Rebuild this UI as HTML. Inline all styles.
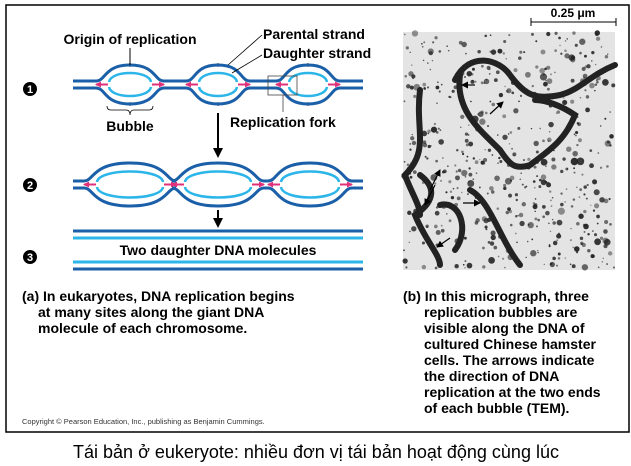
<!DOCTYPE html>
<html><head><meta charset="utf-8"><style>
body{margin:0;background:#fff;width:631px;height:466px;overflow:hidden}
svg{display:block}
text{font-family:"Liberation Sans",Arial,sans-serif}
</style></head><body>
<svg id="s" width="631" height="466" xmlns="http://www.w3.org/2000/svg">
<defs>
<marker id="pk" markerWidth="6" markerHeight="6" refX="5" refY="3" orient="auto" markerUnits="userSpaceOnUse"><path d="M0,0 L6,3 L0,6z" fill="#e0307a"/></marker>
<marker id="bk" markerWidth="10" markerHeight="10" refX="8" refY="5" orient="auto" markerUnits="userSpaceOnUse"><path d="M0,0 L10,5 L0,10z" fill="#000"/></marker>
<marker id="sk" markerWidth="7" markerHeight="7" refX="6" refY="3.5" orient="auto" markerUnits="userSpaceOnUse"><path d="M0,0 L7,3.5 L0,7z" fill="#000"/></marker>
</defs>
<rect x="6" y="5" width="623" height="427" fill="#fff" stroke="#000" stroke-width="1.5"/>
<g id="dna"></g>
<g id="mic"></g>
<line x1="218" y1="113" x2="218" y2="156" stroke="#000" stroke-width="2" marker-end="url(#bk)"/>
<line x1="218" y1="210" x2="218" y2="226" stroke="#000" stroke-width="2" marker-end="url(#bk)"/>
<line x1="73" y1="231" x2="363" y2="231" stroke="#1a5fa8" stroke-width="3"/>
<line x1="73" y1="238" x2="363" y2="238" stroke="#2bb5e8" stroke-width="3"/>
<line x1="73" y1="262" x2="363" y2="262" stroke="#2bb5e8" stroke-width="3"/>
<line x1="73" y1="269" x2="363" y2="269" stroke="#1a5fa8" stroke-width="3"/>
<text x="218" y="255" font-size="14" font-weight="bold" text-anchor="middle">Two daughter DNA molecules</text>
<g font-size="14" font-weight="bold">
<text x="130" y="44" text-anchor="middle">Origin of replication</text>
<text x="263" y="39">Parental strand</text>
<text x="263" y="58">Daughter strand</text>
<text x="130" y="131" text-anchor="middle">Bubble</text>
<text x="230" y="127">Replication fork</text>
</g>
<line x1="130" y1="48" x2="130" y2="65" stroke="#000"/>
<path d="M107,106 q0,4 4,4 h15 q4,0 4,5 q0,-5 4,-5 h15 q4,0 4,-4" fill="none" stroke="#000" stroke-width="0.8"/>
<line x1="262" y1="35" x2="228" y2="65" stroke="#000" stroke-width="0.8"/>
<line x1="262" y1="55" x2="232" y2="73" stroke="#000" stroke-width="0.8"/>
<rect x="268" y="76" width="29" height="19" fill="none" stroke="#444" stroke-width="0.8"/>
<line x1="283" y1="95" x2="283" y2="112" stroke="#444" stroke-width="0.8"/>
<g id="nums"></g>
<g font-size="14" font-weight="bold">
<text x="22" y="301">(a) In eukaryotes, DNA replication begins</text>
<text x="38" y="317">at many sites along the giant DNA</text>
<text x="38" y="333">molecule of each chromosome.</text>
<text x="403" y="301">(b) In this micrograph, three</text>
<text x="424" y="317">replication bubbles are</text>
<text x="424" y="333">visible along the DNA of</text>
<text x="424" y="349">cultured Chinese hamster</text>
<text x="424" y="365">cells. The arrows indicate</text>
<text x="424" y="381">the direction of DNA</text>
<text x="424" y="397">replication at the two ends</text>
<text x="424" y="413">of each bubble (TEM).</text>
</g>
<text x="22" y="424" font-size="7.5" fill="#333">Copyright © Pearson Education, Inc., publishing as Benjamin Cummings.</text>
<text x="316" y="458" font-size="18" text-anchor="middle">Tái bản ở eukeryote: nhiều đơn vị tái bản hoạt động cùng lúc</text>
<line x1="531" y1="22" x2="616" y2="22" stroke="#000"/>
<line x1="531" y1="18" x2="531" y2="26" stroke="#000"/>
<line x1="616" y1="18" x2="616" y2="26" stroke="#000"/>
<text x="573" y="17" font-size="12" font-weight="bold" text-anchor="middle">0.25 μm</text>
</svg>
<script>
var NS="http://www.w3.org/2000/svg";
function el(p,t,a){var e=document.createElementNS(NS,t);for(var k in a)e.setAttribute(k,a[k]);p.appendChild(e);return e;}
var d=document.getElementById("dna");
function row(yT,yB,bubs){
 var top="M73,"+yT, bot="M73,"+yB;
 bubs.forEach(function(b){var c=b[0],w=b[1],h=b[2];
  top+=" L"+(c-w-6)+","+yT+" C"+(c-w+4)+","+yT+" "+(c-w+2)+","+(yT-h)+" "+c+","+(yT-h)+" C"+(c+w-2)+","+(yT-h)+" "+(c+w-4)+","+yT+" "+(c+w+6)+","+yT;
  bot+=" L"+(c-w-6)+","+yB+" C"+(c-w+4)+","+yB+" "+(c-w+2)+","+(yB+h)+" "+c+","+(yB+h)+" C"+(c+w-2)+","+(yB+h)+" "+(c+w-4)+","+yB+" "+(c+w+6)+","+yB;
  var it=yT-h+5, ib=yB+h-5;
  el(d,"path",{d:"M"+(c-w+7)+","+(yT+1)+" C"+(c-w+9)+","+it+" "+(c+w-9)+","+it+" "+(c+w-7)+","+(yT+1),fill:"none",stroke:"#2bb5e8","stroke-width":2.5});
  el(d,"path",{d:"M"+(c-w+7)+","+(yB-1)+" C"+(c-w+9)+","+ib+" "+(c+w-9)+","+ib+" "+(c+w-7)+","+(yB-1),fill:"none",stroke:"#2bb5e8","stroke-width":2.5});
  var ym=(yT+yB)/2;
  el(d,"line",{x1:c-w+6,y1:ym,x2:c-w-6,y2:ym,stroke:"#e0307a","stroke-width":2,"marker-end":"url(#pk)"});
  el(d,"line",{x1:c+w-6,y1:ym,x2:c+w+6,y2:ym,stroke:"#e0307a","stroke-width":2,"marker-end":"url(#pk)"});
  if(b[3]){el(d,"circle",{cx:c,cy:yT-h,r:1.8,fill:"#000"});el(d,"circle",{cx:c,cy:yB+h,r:1.8,fill:"#000"});}
 });
 top+=" L363,"+yT; bot+=" L363,"+yB;
 el(d,"path",{d:top,fill:"none",stroke:"#1a5fa8","stroke-width":3});
 el(d,"path",{d:bot,fill:"none",stroke:"#1a5fa8","stroke-width":3});
}
row(81,88,[[130,28,16,1],[218,26,16,1],[308,26,16,1]]);
row(181,188,[[130,40,18,0],[218,40,18,0],[310,36,18,0]]);
var n=document.getElementById("nums");
[[89,"1"],[185,"2"],[257,"3"]].forEach(function(a){el(n,"circle",{cx:30,cy:a[0],r:7,fill:"#000"});var t=el(n,"text",{x:30,y:a[0]+4,"font-size":11,"font-weight":"bold",fill:"#fff","text-anchor":"middle"});t.textContent=a[1];});
var m=document.getElementById("mic");
el(m,"rect",{x:403,y:32,width:212,height:238,fill:"#e4e4e4"});
var seed=7;function r(){seed=(seed*16807)%2147483647;return seed/2147483647;}
for(var i=0;i<550;i++){el(m,"circle",{cx:404+r()*210,cy:33+r()*236,r:0.7+r()*r()*3.4,fill:"#222","fill-opacity":0.45+r()*0.5});}
var paths=["M420,90 C415,130 430,150 405,175 C410,190 420,205 420,215","M455,80 C470,50 500,60 510,75 C525,95 535,100 560,95 C580,90 590,75 615,65","M460,75 C455,110 480,130 500,150 C510,165 515,170 530,165 C550,150 565,140 575,115 C560,105 545,100 535,100","M420,175 C440,190 430,205 415,215 C425,240 440,255 440,265","M470,190 C490,200 500,240 520,265","M440,205 C460,200 470,230 455,250"];
paths.forEach(function(p){el(m,"path",{d:p,fill:"none",stroke:"#222","stroke-width":6,"stroke-linecap":"round"});});
[[475,85,462,85],[490,114,503,102],[430,190,440,170],[435,185,425,205],[463,203,480,203],[450,238,437,247]].forEach(function(a){el(m,"line",{x1:a[0],y1:a[1],x2:a[2],y2:a[3],stroke:"#000","stroke-width":1.2,"marker-end":"url(#sk)"});});
</script>
</body></html>
